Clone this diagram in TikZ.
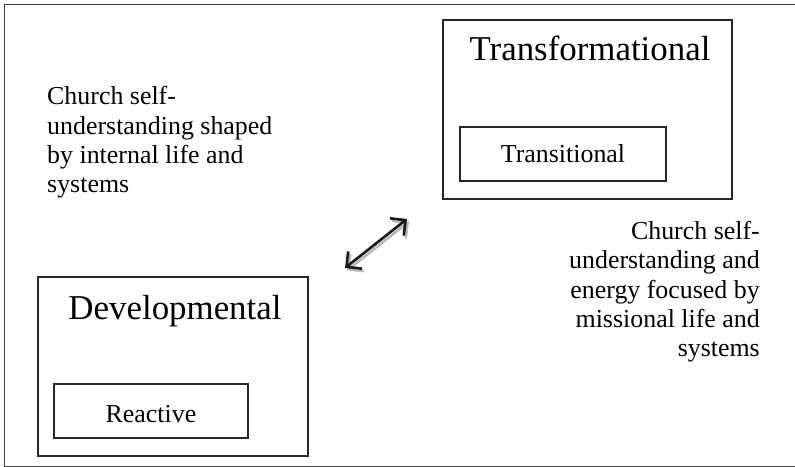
\documentclass[tikz,border=0pt]{standalone}
\usepackage{fontspec}
\setmainfont{Liberation Serif}
\usetikzlibrary{arrows.meta}
\begin{document}
\begin{tikzpicture}[x=1bp,y=-1bp,
  boxline/.style={draw=black!85,line width=1.3bp,inner sep=0,rectangle},
  bigtxt/.style={font=\fontsize{35}{40}\selectfont,inner sep=0,anchor=base},
  smalltxt/.style={font=\fontsize{26}{29.5}\selectfont,inner sep=0},
  dblarrow/.style={line width=2.6bp,{Straight Barb[length=11bp,width=22bp]}-{Straight Barb[length=11bp,width=22bp]}}]
\useasboundingbox (0,0) rectangle (795,467);
\fill[white] (0,0) rectangle (795,467);
\node[boxline,draw=black!75,line width=1.2bp,minimum width=796bp,minimum height=462bp,anchor=north west] (frame) at (4,4) {};
% boxes
\node[boxline,minimum width=289bp,minimum height=179bp] (trf) at (587.5,109.5) {};
\node[boxline,minimum width=206bp,minimum height=54bp] (trs) at (563,154) {};
\node[boxline,minimum width=270bp,minimum height=179bp] (dev) at (173,366.5) {};
\node[boxline,minimum width=194bp,minimum height=54bp] (rea) at (151,411) {};
% labels
\node[bigtxt] (trflab) at (590,61) {Transformational};
\node[smalltxt,anchor=base] (trslab) at (563,163) {Transitional};
\node[bigtxt] (devlab) at (175,320) {Developmental};
\node[smalltxt,anchor=base] (realab) at (151,422) {Reactive};
% paragraphs (base anchor = last line)
\node[smalltxt,align=left,anchor=base west] (txtL) at (47,193) {Church self-\\understanding shaped\\by internal life and\\systems};
\node[smalltxt,align=right,anchor=base east] (txtR) at (760,357) {Church self-\\understanding and\\energy focused by\\missional life and\\systems};
% arrow
\coordinate (a1) at (345,268);
\coordinate (a2) at (407,219);
\draw[dblarrow,gray!55] ([shift={(2,2.5)}]a1) -- ([shift={(2,2.5)}]a2);
\draw[dblarrow,black!90] (a1) -- (a2);
\end{tikzpicture}
\end{document}
